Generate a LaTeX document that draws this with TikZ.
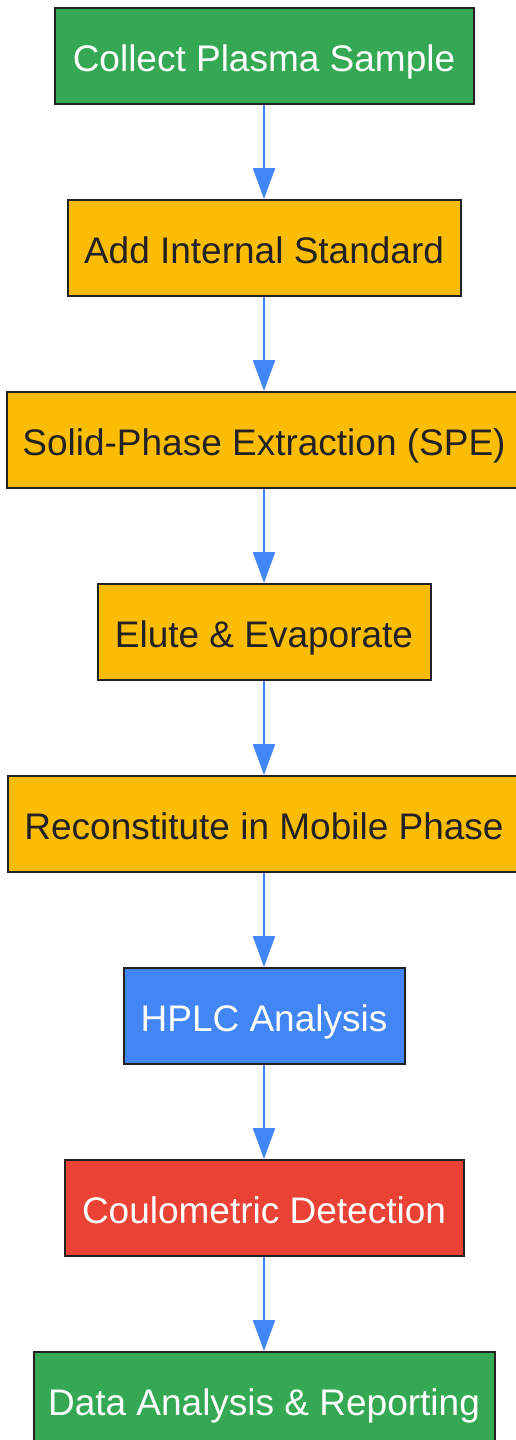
\documentclass[tikz,border=0pt]{standalone}
\usepackage{fontspec}
\setmainfont{Liberation Sans}
\usetikzlibrary{arrows.meta}
\definecolor{ggreen}{HTML}{34A853}
\definecolor{gyellow}{HTML}{FBBC04}
\definecolor{gblue}{HTML}{4285F4}
\definecolor{gred}{HTML}{EA4335}
\definecolor{border}{HTML}{222222}
\definecolor{darktext}{HTML}{222222}
\tikzset{
  stepbox/.style={draw=border, line width=2pt, minimum height=96pt, inner sep=0pt,
    text height=33pt, text depth=2pt,
    font=\fontsize{37}{44}\selectfont},
  greenbox/.style={stepbox, fill=ggreen, text=white},
  yellowbox/.style={stepbox, fill=gyellow, text=darktext},
  bluebox/.style={stepbox, fill=gblue, text=white},
  redbox/.style={stepbox, fill=gred, text=white},
  flow/.style={draw=gblue, line width=2pt, -{Triangle[length=31pt,width=22pt]}},
}
\begin{document}
\begin{tikzpicture}[x=1pt,y=-1pt]
\useasboundingbox (0,0) rectangle (516,1440);
\clip (0,0) rectangle (516,1440);
\fill[white] (0,0) rectangle (516,1440);
\node[greenbox, minimum width=419pt] (n1) at (264,56) {Collect Plasma Sample};
\node[yellowbox, minimum width=393pt] (n2) at (264,248) {Add Internal Standard};
\node[yellowbox, minimum width=514pt] (n3) at (264,440) {Solid-Phase Extraction (SPE)};
\node[yellowbox, minimum width=333pt] (n4) at (264,632) {Elute \& Evaporate};
\node[yellowbox, minimum width=512pt] (n5) at (264,824) {Reconstitute in Mobile Phase};
\node[bluebox, minimum width=281pt] (n6) at (264,1016) {HPLC Analysis};
\node[redbox, minimum width=399pt] (n7) at (264,1208) {Coulometric Detection};
\node[greenbox, minimum width=461pt] (n8) at (264,1400) {Data Analysis \& Reporting};
\draw[flow] (n1) -- (n2);
\draw[flow] (n2) -- (n3);
\draw[flow] (n3) -- (n4);
\draw[flow] (n4) -- (n5);
\draw[flow] (n5) -- (n6);
\draw[flow] (n6) -- (n7);
\draw[flow] (n7) -- (n8);
\end{tikzpicture}
\end{document}
